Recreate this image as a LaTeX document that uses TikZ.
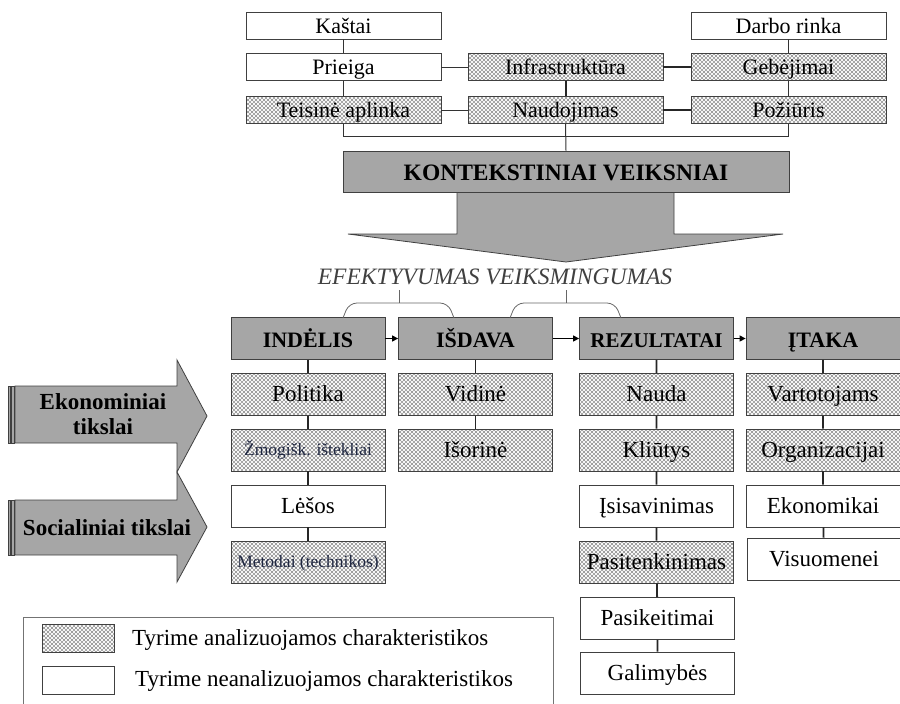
\documentclass[tikz,border=0pt]{standalone}
\usepackage{fontspec}
\setmainfont{Liberation Serif}
\usetikzlibrary{patterns,arrows.meta}

\definecolor{boxgray}{HTML}{A6A6A6}
\definecolor{edge}{HTML}{404040}
\definecolor{hatch}{HTML}{959595}
\definecolor{navyink}{HTML}{1E2640}

% fine diagonal cross-hatching for the analysed characteristics
\pgfdeclarepatternformonly{xhatch}{\pgfqpoint{-1pt}{-1pt}}{\pgfqpoint{5pt}{5pt}}{\pgfqpoint{4pt}{4pt}}{%
  \pgfsetlinewidth{0.55pt}%
  \pgfpathmoveto{\pgfqpoint{-0.5pt}{-0.5pt}}\pgfpathlineto{\pgfqpoint{4.5pt}{4.5pt}}%
  \pgfpathmoveto{\pgfqpoint{-0.5pt}{4.5pt}}\pgfpathlineto{\pgfqpoint{4.5pt}{-0.5pt}}%
  \pgfusepath{stroke}}

\tikzset{
  txt/.style={font=\fontsize{23}{25}\selectfont},
  topbox/.style={draw=edge, line width=0.8pt, minimum width=195pt, minimum height=27pt,
    inner sep=0pt, text height=19pt, text depth=4pt, font=\fontsize{22}{24}\selectfont},
  cell/.style={draw=edge, line width=0.8pt, minimum width=154pt, minimum height=42pt,
    inner sep=0pt, text height=18pt, text depth=4pt, font=\fontsize{23}{25}\selectfont},
  small/.style={font=\fontsize{17.5}{19}\selectfont, text=navyink, text height=15pt, text depth=4pt},
  hdr/.style={cell, fill=boxgray, text height=20pt, text depth=3pt,
    font=\fontsize{22}{24}\selectfont\bfseries},
  an/.style={pattern=xhatch, pattern color=hatch},
  na/.style={fill=white},
  thin/.style={draw=black!80, line width=1pt},
  thick/.style={draw=black!85, line width=2pt},
  link/.style={draw=black!85, line width=1.8pt},
  flow/.style={draw=black, line width=1.3pt, -{Triangle[length=6pt,width=6pt]}},
  brace/.style={draw=black!60, line width=0.8pt},
  goal/.style={draw=edge, fill=boxgray, line width=0.8pt},
}

\begin{document}
\begin{tikzpicture}[x=1pt, y=-1pt]
\useasboundingbox (0,0) rectangle (900,704);

% ---------- contextual factors ----------
\node[topbox,na] (kastai)  at (343.5,25.5) {Kaštai};
\node[topbox,na] (darbo)   at (788.5,25.5) {Darbo rinka};
\node[topbox,na] (prieiga) at (343.5,67) {Prieiga};
\node[topbox,an] (infra)   at (565.5,67) {Infrastruktūra};
\node[topbox,an] (gebe)    at (788.5,67) {Gebėjimai};
\node[topbox,an] (teis)    at (343.5,110) {Teisinė aplinka};
\node[topbox,an] (naud)    at (565.5,110) {Naudojimas};
\node[topbox,an] (poz)     at (788.5,110) {Požiūris};

\draw[thin] (kastai) -- (prieiga);
\draw[thin] (prieiga) -- (teis);
\draw[thin] (darbo) -- (gebe);
\draw[thin] (gebe) -- (poz);
\draw[thick] (infra) -- (naud);
\draw[thin] (prieiga) -- (infra);
\draw[thick] (infra) -- (gebe);
\draw[thin] (teis) -- (naud);
\draw[thick] (naud) -- (poz);

% big arrow under the contextual factors
\draw[goal] (457,192) -- (457,234) -- (348,234) -- (566,262) -- (783,234) -- (674,234) -- (674,192);
\node[draw=edge, fill=boxgray, line width=0.8pt, minimum width=446pt, minimum height=41pt,
      inner sep=0pt, text height=20pt, text depth=3pt,
      font=\fontsize{23.5}{25}\selectfont\bfseries] (kont) at (566,171.5)
      {KONTEKSTINIAI VEIKSNIAI};

\draw[thin] (teis.south) -- ++(0,13) -| (poz.south);
\draw[thin] (naud.south) -- (kont.north);

% ---------- efficiency / effectiveness ----------
\node[anchor=base, inner sep=0pt, text=black!75,
      font=\fontsize{23.5}{25}\selectfont\itshape] (eff) at (495,284) {EFEKTYVUMAS VEIKSMINGUMAS};

% ---------- logic model headers ----------
\node[hdr] (ind) at (308,338.5) {INDĖLIS};
\node[hdr] (isd) at (475.5,338.5) {IŠDAVA};
\node[hdr, font=\fontsize{21}{23}\selectfont\bfseries] (rez) at (656.5,338.5) {REZULTATAI};
\node[hdr] (ita) at (823,338.5) {ĮTAKA};

\draw[flow] (ind) -- (isd);
\draw[flow] (isd) -- (rez);
\draw[flow] (rez) -- (ita);

% braces joining the two criteria to the header pairs
\coordinate (effL) at (399,290);
\coordinate (effR) at (566,290);
\draw[brace] (effL) -- (399,303);
\draw[brace] (effR) -- (566,303);
\draw[brace, rounded corners=8pt] (343,318) -- (349,303) -- (448,303) -- (454,318);
\draw[brace, rounded corners=8pt] (510,318) -- (516,303) -- (615,303) -- (621,318);

% ---------- inputs ----------
\node[cell,an] (pol) at (308,394.5) {Politika};
\node[cell,an,small] (zmo) at (308,450) {Žmogišk. ištekliai};
\node[cell,na] (les) at (308,506) {Lėšos};
\node[cell,an,small] (met) at (308,562) {Metodai (technikos)};
\draw[link] (ind) -- (pol) -- (zmo) -- (les) -- (met);

% ---------- outputs ----------
\node[cell,an] (vid) at (475.5,394.5) {Vidinė};
\node[cell,an] (iso) at (475.5,450) {Išorinė};
\draw[link] (isd) -- (vid) -- (iso);

% ---------- outcomes ----------
\node[cell,an] (nauda) at (656.5,394.5) {Nauda};
\node[cell,an] (kliu)  at (656.5,450) {Kliūtys};
\node[cell,na] (isis)  at (656.5,506) {Įsisavinimas};
\node[cell,an] (pasit) at (656.5,562) {Pasitenkinimas};
\node[cell,na] (pasik) at (657.5,618.5) {Pasikeitimai};
\node[cell,na] (galim) at (657.5,673) {Galimybės};
\draw[link] (rez) -- (nauda) -- (kliu) -- (isis) -- (pasit) -- (pasik) -- (galim);

% ---------- impact ----------
\node[cell,an] (vart) at (823,394.5) {Vartotojams};
\node[cell,an] (org)  at (823,450) {Organizacijai};
\node[cell,na] (ekon) at (823,506) {Ekonomikai};
\node[cell,na] (vis)  at (824,559) {Visuomenei};
\draw[link] (ita) -- (vart) -- (org) -- (ekon) -- (vis);

% ---------- goals ----------
\draw[goal] (15,386) -- (177,386) -- (177,360) -- (207,416) -- (177,472) -- (177,443) -- (15,443) -- cycle;
\draw[goal] (8,386) rectangle (10.5,443);
\draw[goal] (11.5,386) rectangle (14,443);
\draw[goal] (15,500) -- (177,500) -- (177,472) -- (207,527) -- (177,582) -- (177,555) -- (15,555) -- cycle;
\draw[goal] (8,500) rectangle (10.5,555);
\draw[goal] (11.5,500) rectangle (14,555);
\node[align=center, inner sep=0pt, font=\fontsize{23}{25}\selectfont\bfseries] (goalA) at (103,414) {Ekonominiai\\tikslai};
\node[inner sep=0pt, font=\fontsize{23}{25}\selectfont\bfseries] (goalB) at (107,528) {Socialiniai tikslai};

% ---------- legend ----------
\draw[draw=black!55, line width=0.8pt] (23,617) rectangle (553,712);
\node[draw=edge, line width=0.8pt, an, minimum width=72pt, minimum height=28pt, inner sep=0pt] (keyA) at (78,638) {};
\node[draw=edge, line width=0.8pt, na, minimum width=72pt, minimum height=28pt, inner sep=0pt] (keyB) at (78,680) {};
\node[txt, anchor=base west, inner sep=0pt] (keyAtext) at (132,645) {Tyrime analizuojamos charakteristikos};
\node[txt, anchor=base west, inner sep=0pt] (keyBtext) at (135,686) {Tyrime neanalizuojamos charakteristikos};
\end{tikzpicture}
\end{document}
